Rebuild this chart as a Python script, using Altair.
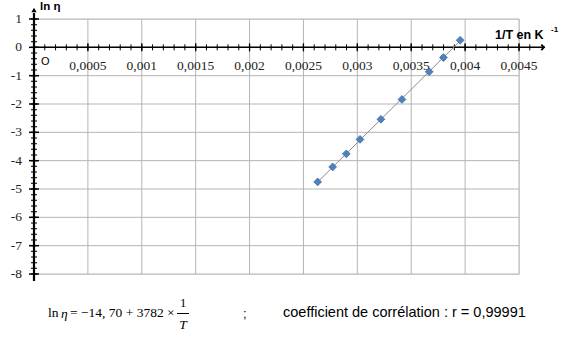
import altair as alt
import pandas as pd

# data
inv_T = [0.002632, 0.002771, 0.002898, 0.003025, 0.003219, 0.003414, 0.003667, 0.003799, 0.003954]
ln_eta = [-4.75, -4.22, -3.76, -3.25, -2.54, -1.84, -0.86, -0.36, 0.25]

x_major = [0.0005, 0.001, 0.0015, 0.002, 0.0025, 0.003, 0.0035, 0.004, 0.0045]
x_minor = [round(k * 0.0001, 4) for k in range(1, 47)]
y_major = [1, 0, -1, -2, -3, -4, -5, -6, -7, -8]
y_minor = [round(-8 + k * 0.2, 1) for k in range(0, 46)]

W, H = 485, 255
xs = alt.Scale(domain=[0, 0.0045], nice=False, zero=False)
ys = alt.Scale(domain=[-8, 1], nice=False, zero=False)
Y0_OFF = -(H - H / 9.0)  # x axis sits at y = 0
SERIF = "Liberation Serif"

x_axis = alt.Axis(offset=Y0_OFF, domain=False, ticks=False, grid=False, tickCount=9, labels=False)
y_axis = alt.Axis(domain=False, ticks=False, grid=False, tickCount=9, labels=False)

pts = pd.DataFrame({"inv_T": inv_T, "ln_eta": ln_eta})
one = pd.DataFrame({"a": [0]})

xgrid = alt.Chart(pd.DataFrame({"x": x_major})).mark_rule(color="#b5b5b5", strokeWidth=1).encode(
    x=alt.X("x:Q", scale=xs, title=None, axis=x_axis),
    y=alt.datum(1, scale=ys), y2=alt.datum(-8),
)
ygrid = alt.Chart(pd.DataFrame({"y": y_major})).mark_rule(color="#b5b5b5", strokeWidth=1).encode(
    y=alt.Y("y:Q", scale=ys, title=None, axis=y_axis),
    x=alt.datum(0), x2=alt.datum(0.0045),
)

xlabels = alt.Chart(pd.DataFrame({"x": x_major})).transform_calculate(
    lab="replace(format(datum.x, '.4~f'), '.', ',')"
).mark_text(font=SERIF, fontSize=13.5, color="#222", baseline="middle", yOffset=19).encode(
    x=alt.X("x:Q", title=None, axis=x_axis), y=alt.datum(0), text="lab:N")
ylabels = alt.Chart(pd.DataFrame({"y": y_major})).transform_calculate(
    lab="'' + datum.y"
).mark_text(font=SERIF, fontSize=13.5, color="#222", baseline="middle", align="right", xOffset=-12).encode(
    y=alt.Y("y:Q", title=None, axis=y_axis), x=alt.datum(0), text="lab:N")

xminor = alt.Chart(pd.DataFrame({"x": x_minor})).mark_rule(color="black", strokeWidth=1, yOffset=-3, y2Offset=3).encode(
    x=alt.X("x:Q", title=None, axis=x_axis), y=alt.datum(0), y2=alt.datum(0))
xmajor = alt.Chart(pd.DataFrame({"x": x_major})).mark_rule(color="black", strokeWidth=1.3, yOffset=-4, y2Offset=4).encode(
    x=alt.X("x:Q", title=None, axis=x_axis), y=alt.datum(0), y2=alt.datum(0))
yminor = alt.Chart(pd.DataFrame({"y": y_minor})).mark_rule(color="#333", strokeWidth=1.3, xOffset=-3, x2Offset=3).encode(
    y=alt.Y("y:Q", title=None, axis=y_axis), x=alt.datum(0), x2=alt.datum(0))
ymajor = alt.Chart(pd.DataFrame({"y": y_major})).mark_rule(color="black", strokeWidth=1.5, xOffset=-5, x2Offset=5).encode(
    y=alt.Y("y:Q", title=None, axis=y_axis), x=alt.datum(0), x2=alt.datum(0))

xline = alt.Chart(one).mark_rule(color="black", strokeWidth=1.5, x2Offset=26).encode(
    x=alt.datum(0), x2=alt.datum(0.0045), y=alt.datum(0))
yline = alt.Chart(one).mark_rule(color="black", strokeWidth=2.2, yOffset=-6, y2Offset=7).encode(
    y=alt.datum(1), y2=alt.datum(-8), x=alt.datum(0))
arrow_up = alt.Chart(one).mark_point(shape="triangle-up", filled=True, color="black", size=28, yOffset=-9, opacity=1).encode(
    x=alt.datum(0), y=alt.datum(1))
arrow_right = alt.Chart(one).mark_point(shape="M-1,-1L0,0L-1,1", filled=False, color="black", strokeWidth=1.8,
                                        size=30, xOffset=25, opacity=1).encode(
    x=alt.datum(0.0045), y=alt.datum(0))

trend = alt.Chart(pts).transform_regression("inv_T", "ln_eta").mark_line(color="#8a8a8a", strokeWidth=1).encode(
    x=alt.X("inv_T:Q", title=None, axis=x_axis), y=alt.Y("ln_eta:Q", title=None, axis=y_axis))
points = alt.Chart(pts).mark_point(shape="diamond", filled=True, fill="#4F81BD", stroke="#3a6aa3",
                                   strokeWidth=0.8, size=60, opacity=1).encode(
    x=alt.X("inv_T:Q", title=None, axis=x_axis), y=alt.Y("ln_eta:Q", title=None, axis=y_axis))


def txt(s, x, y, size=12, font="Liberation Sans", weight="normal", style="normal", align="left"):
    return alt.Chart(one).mark_text(text=s, fontSize=size, font=font, fontWeight=weight, fontStyle=style,
                                    align=align, baseline="middle", color="black").encode(
        x=alt.value(x), y=alt.value(y))


texts = [
    txt("ln η", 6, -12, size=11.5, weight="bold"),
    txt("1/T  en K", 461, 15.5, size=12.5, weight="bold"),
    txt("-1", 517, 10.5, size=8, weight="bold"),
    txt("O", 7, 43, size=11),
    txt("ln", 14, 294, size=13.5, font=SERIF),
    txt("η", 27, 295, size=13.5, font=SERIF, style="italic"),
    txt("= −14, 70 + 3782 ×", 36, 294, size=13.5, font=SERIF),
    txt("1", 149, 284, size=12.5, font=SERIF, align="center"),
    txt("T", 149, 306, size=13.5, font=SERIF, style="italic", align="center"),
    txt(";", 209, 295, size=13),
    txt("coefficient de corrélation : r = 0,99991", 249, 294, size=14.5),
]
frac_bar = alt.Chart(one).mark_rule(color="black", strokeWidth=1).encode(
    x=alt.value(143), x2=alt.value(155), y=alt.value(294.5))

chart = alt.layer(
    xgrid, ygrid, xminor, xmajor, yminor, ymajor, xline, yline, arrow_up, arrow_right,
    xlabels, ylabels, trend, points, frac_bar, *texts
).properties(
    width=W, height=H,
    autosize=alt.AutoSizeParams(type="none"),
    padding={"left": 34, "top": 19, "right": 43, "bottom": 65},
).configure_view(stroke=None).configure(background="white")

chart.save("out.html", embed_options={"renderer": "svg", "actions": False})
